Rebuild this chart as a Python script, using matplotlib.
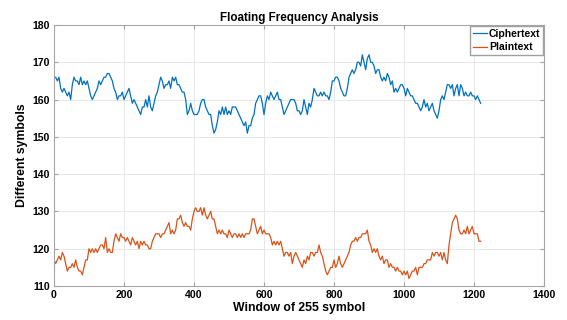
import numpy as np
import matplotlib.pyplot as plt

plt.rcParams['font.family'] = ['Liberation Sans', 'DejaVu Sans']

# values, one reading about every 4.76 windows
cipher = [
    166, 166, 165, 166, 163, 162, 163, 162, 161, 162,
    160, 164, 166, 165, 165, 164, 166, 164, 165, 164,
    165, 163, 161, 160, 161, 162, 163, 165, 164, 165,
    166, 166, 167, 167, 166, 165, 163, 162, 160, 161,
    161, 162, 160, 161, 162, 163, 161, 159, 160, 159,
    158, 157, 156, 158, 158, 160, 158, 161, 158, 157,
    159, 161, 162, 164, 166, 165, 163, 164, 164, 165,
    163, 166, 165, 166, 164, 164, 163, 162, 162, 160,
    156, 157, 159, 157, 156, 156, 156, 157, 159, 160,
    160, 158, 157, 156, 156, 153, 151, 152, 154, 157,
    156, 158, 156, 158, 156, 157, 156, 158, 158, 158,
    157, 156, 155, 154, 153, 154, 151, 153, 153, 155,
    156, 159, 160, 161, 161, 159, 156, 159, 161,
    160, 162, 161, 160, 161, 162, 160, 160, 158, 156,
    157, 158, 159, 160, 160, 160, 159, 157, 157, 156,
    157, 160, 158, 156, 159, 158, 160, 163, 162, 161,
    161, 162, 161, 162, 161, 161, 160, 162, 165, 165,
    166, 166, 165, 163, 162, 161, 161, 163, 166, 167,
    168, 167, 168, 170, 170, 169, 172, 170, 168, 171,
    172, 170, 170, 169, 167, 168, 168, 166, 165, 166,
    165, 167, 166, 164, 165, 162, 163, 162, 163, 164,
    164, 163, 161, 163, 162, 161, 161, 160, 159, 159,
    158, 157, 158, 160, 158, 159, 157, 158, 159, 157,
    156, 155, 157, 160, 161, 160, 162, 164, 164, 163,
    164, 161, 163, 164, 161, 164, 163, 161, 162, 161,
    161, 162, 161, 161, 160, 161, 160, 159,
]

plain = [
    117, 116, 117, 118, 117, 119, 118, 116, 114, 115,
    115, 116, 115, 117, 115, 114, 114, 113, 115, 117,
    117, 120, 119, 120, 119, 120, 119, 120, 121, 121,
    120, 123, 119, 120, 119, 119, 122, 124, 123, 122,
    124, 123, 123, 122, 123, 122, 121, 123, 122, 121,
    122, 120, 122, 121, 122, 121, 121, 120, 120, 122,
    123, 124, 124, 124, 123, 124, 124, 125, 126, 127,
    124, 125, 124, 125, 128, 128, 129, 127, 126, 127,
    126, 126, 125, 128, 130, 131, 130, 130, 131, 129,
    131, 129, 128, 129, 130, 128, 128, 126, 124, 125,
    124, 125, 124, 124, 123, 125, 124, 123, 124, 124,
    123, 124, 123, 124, 123, 124, 124, 124, 125, 128,
    128, 126, 124, 125, 126, 124, 125, 124, 124,
    124, 123, 121, 122, 121, 122, 121, 122, 120, 118,
    119, 119, 118, 119, 116, 118, 119, 118, 117, 116,
    115, 117, 116, 118, 117, 119, 119, 118, 119, 119,
    121, 119, 118, 116, 114, 113, 114, 115, 115, 117,
    115, 116, 118, 116, 115, 116, 117, 118, 119, 121,
    122, 122, 123, 122, 123, 123, 124, 124, 124, 125,
    122, 121, 119, 120, 119, 120, 118, 117, 118, 116,
    117, 117, 115, 116, 115, 115, 114, 115, 114, 114,
    113, 114, 113, 114, 112, 113, 114, 114, 115, 113,
    115, 115, 115, 116, 116, 117, 117, 117, 119, 118,
    119, 119, 118, 119, 117, 119, 117, 116, 121, 124,
    127, 128, 129, 128, 125, 124, 124, 125, 124, 126,
    124, 125, 126, 124, 124, 124, 122, 122,
]

window = np.arange(len(cipher)) * 100 / 21

fig = plt.figure(figsize=(5.67, 3.2), dpi=100)
ax = fig.add_axes([54 / 567, 34 / 320, 490 / 567, 261 / 320])

ax.plot(window, cipher, color='#0072BD', lw=0.9, label='Ciphertext')
ax.plot(window, plain, color='#D95319', lw=0.9, label='Plaintext')

ax.set_xlim(0, 1400)
ax.set_ylim(110, 180)
ax.set_xticks(range(0, 1401, 200))
ax.set_yticks(range(110, 181, 10))
ax.grid(True, color='#e3e3e3', lw=0.6)
ax.tick_params(direction='in', length=3, top=True, right=True,
               color='#a0a0a0', labelsize=7.6, pad=3)
for lab in ax.get_xticklabels() + ax.get_yticklabels():
    lab.set_fontweight('bold')
for sp in ax.spines.values():
    sp.set_color('#a6a6a6')
    sp.set_linewidth(0.8)

ax.set_title('Floating Frequency Analysis', fontsize=8.4, fontweight='bold', pad=3)
ax.set_xlabel('Window of 255 symbol', fontsize=8.8, fontweight='bold', labelpad=1)
ax.set_ylabel('Different symbols', fontsize=8.8, fontweight='bold', labelpad=3)

ax.legend(loc='upper right', prop={'size': 7.5, 'weight': 'bold'},
          handlelength=1.4, handletextpad=0.15, borderpad=0.3,
          borderaxespad=0.05, labelspacing=0.35, fancybox=False,
          edgecolor='#a0a0a0', framealpha=1)

fig.savefig('out.png', dpi=100)
